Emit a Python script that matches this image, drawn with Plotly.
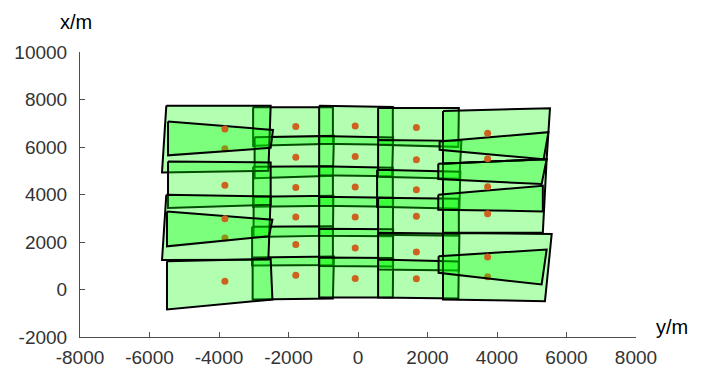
import plotly.graph_objects as go

# ---- footprint corners (east = "y/m", north = "x/m"), 4 corners each ----
# regular footprints
reg_east = [
    [-3018, -722, -722, -3018], [-2975, -693, -722, -2975], [-3018, -722, -722, -3018],
    [-3004, -708, -722, -3004], [-3047, -722, -722, -3047], [-3032, -693, -722, -3032],
    [-1118, 1002, 1002, -1118], [-1118, 1011, 982, -1118], [-1118, 1002, 1002, -1118],
    [-1118, 1011, 1002, -1118], [-1118, 1011, 1002, -1118], [-1118, 1011, 1002, -1118],
    [578, 2902, 2888, 578], [578, 2975, 2917, 578], [549, 2946, 2917, 549],
    [578, 2902, 2902, 578], [578, 2917, 2902, 578], [578, 2902, 2888, 578],
    [-5516, -2513, -2579, -5640], [-5467, -2513, -2513, -5467],
    [-5516, -2513, -2579, -5640], [-5496, -2513, -2463, -5496],
    [2446, 5525, 5429, 2446], [2446, 5429, 5319, 2446], [2446, 5574, 5380, 2446],
]
reg_north = [
    [7673, 7673, 6132, 6048], [6413, 6468, 4788, 4683], [5166, 5187, 3528, 3486],
    [3906, 3948, 2268, 2205], [2646, 2667, 1029, 1008], [1344, 1386, -378, -420],
    [7741, 7686, 6090, 6132], [6468, 6405, 4767, 4809], [5187, 5124, 3486, 3528],
    [3906, 3864, 2247, 2268], [2562, 2541, 966, 987], [1344, 1323, -336, -336],
    [7644, 7644, 6006, 6090], [6300, 6258, 4662, 4746], [5040, 4956, 3402, 3486],
    [3864, 3822, 2268, 2310], [2394, 2352, 798, 840], [1260, 1176, -378, -336],
    [7741, 7741, 4998, 4927], [5389, 5347, 3570, 3431],
    [3990, 3919, 1260, 1239], [1189, 1289, -420, -840],
    [7518, 7631, 5489, 5292], [5292, 5489, 2394, 2394], [2381, 2339, -491, -420],
]
# tilted (oblique) footprints
tilt_east = [
    [-5467, -2446, -2513, -5467],
    [-5496, -2463, -2562, -5496],
    [2348, 5479, 5343, 2348],
    [2310, 5429, 5285, 2310],
    [2310, 5319, 5319, 2310],
    [2319, 5429, 5285, 2319],
]
tilt_north = [
    [7069, 6720, 5964, 5649],
    [3289, 2940, 2239, 1819],
    [6229, 6623, 5489, 5880],
    [5292, 5489, 4439, 4649],
    [3990, 4368, 3289, 3360],
    [1399, 1680, 210, 701],
]

# ---- centre points ----
dot_east = [-3830] * 6 + [-1790] * 6 + [-80] * 6 + [1680] * 6 + [3730] * 6
dot_north = [
    6762, 5922, 4389, 2982, 2171, 349,
    6859, 5573, 4297, 3053, 1890, 601,
    6888, 5599, 4313, 3053, 1751, 462,
    6817, 5460, 4200, 3079, 1583, 449,
    6581, 5502, 4326, 3192, 1373, 533,
]
dot_hidden = [
    0, 1, 0, 0, 1, 0,
    0, 0, 0, 0, 0, 0,
    0, 0, 0, 0, 0, 0,
    0, 0, 0, 0, 0, 0,
    0, 0, 0, 0, 0, 1,
]

x_ticks = [-8000, -6000, -4000, -2000, 0, 2000, 4000, 6000, 8000]
y_ticks = [-2000, 0, 2000, 4000, 6000, 8000, 10000]

FILL = "rgba(0,255,0,0.3)"
EDGE = dict(color="black", width=2)
DOT = "rgb(205,98,30)"

fig = go.Figure()


def add_poly(ex, ny):
    fig.add_trace(go.Scatter(
        x=ex + [ex[0]], y=ny + [ny[0]], mode="lines", fill="toself",
        fillcolor=FILL, line=EDGE, hoverinfo="skip", showlegend=False))


for ex, ny in zip(reg_east, reg_north):
    add_poly(ex, ny)

hx = [e for e, h in zip(dot_east, dot_hidden) if h]
hy = [n for n, h in zip(dot_north, dot_hidden) if h]
fig.add_trace(go.Scatter(x=hx, y=hy, mode="markers",
                         marker=dict(color=DOT, size=7), showlegend=False))

for ex, ny in zip(tilt_east, tilt_north):
    add_poly(ex, ny)

vx = [e for e, h in zip(dot_east, dot_hidden) if not h]
vy = [n for n, h in zip(dot_north, dot_hidden) if not h]
fig.add_trace(go.Scatter(x=vx, y=vy, mode="markers",
                         marker=dict(color=DOT, size=7), showlegend=False))

FONT = "Liberation Sans, Arial, sans-serif"
axis_common = dict(
    showgrid=False, zeroline=False, showline=True, linecolor="#4d4d4d",
    linewidth=1, ticks="inside", ticklen=5, tickcolor="#4d4d4d",
    automargin=False,
    tickfont=dict(family=FONT, size=19, color="#333333"),
)

fig.update_layout(
    width=707, height=379,
    margin=dict(l=72, r=79, t=44, b=50),
    plot_bgcolor="white", paper_bgcolor="white",
    xaxis=dict(range=[-8000, 8000], tickvals=x_ticks,
               ticktext=[str(v) for v in x_ticks], ticklabelstandoff=3,
               **axis_common),
    yaxis=dict(range=[-2000, 10000], tickvals=y_ticks,
               ticktext=[str(v) for v in y_ticks], ticklabelstandoff=8,
               **axis_common),
    annotations=[
        dict(text="x/m", xref="paper", yref="paper", x=-0.007, y=1.105,
             xanchor="center", yanchor="middle", showarrow=False,
             font=dict(family=FONT, size=20, color="black")),
        dict(text="y/m", xref="paper", yref="paper", x=1.065, y=0.036,
             xanchor="center", yanchor="middle", showarrow=False,
             font=dict(family=FONT, size=20, color="black")),
    ],
)

fig.write_html("out.html")
